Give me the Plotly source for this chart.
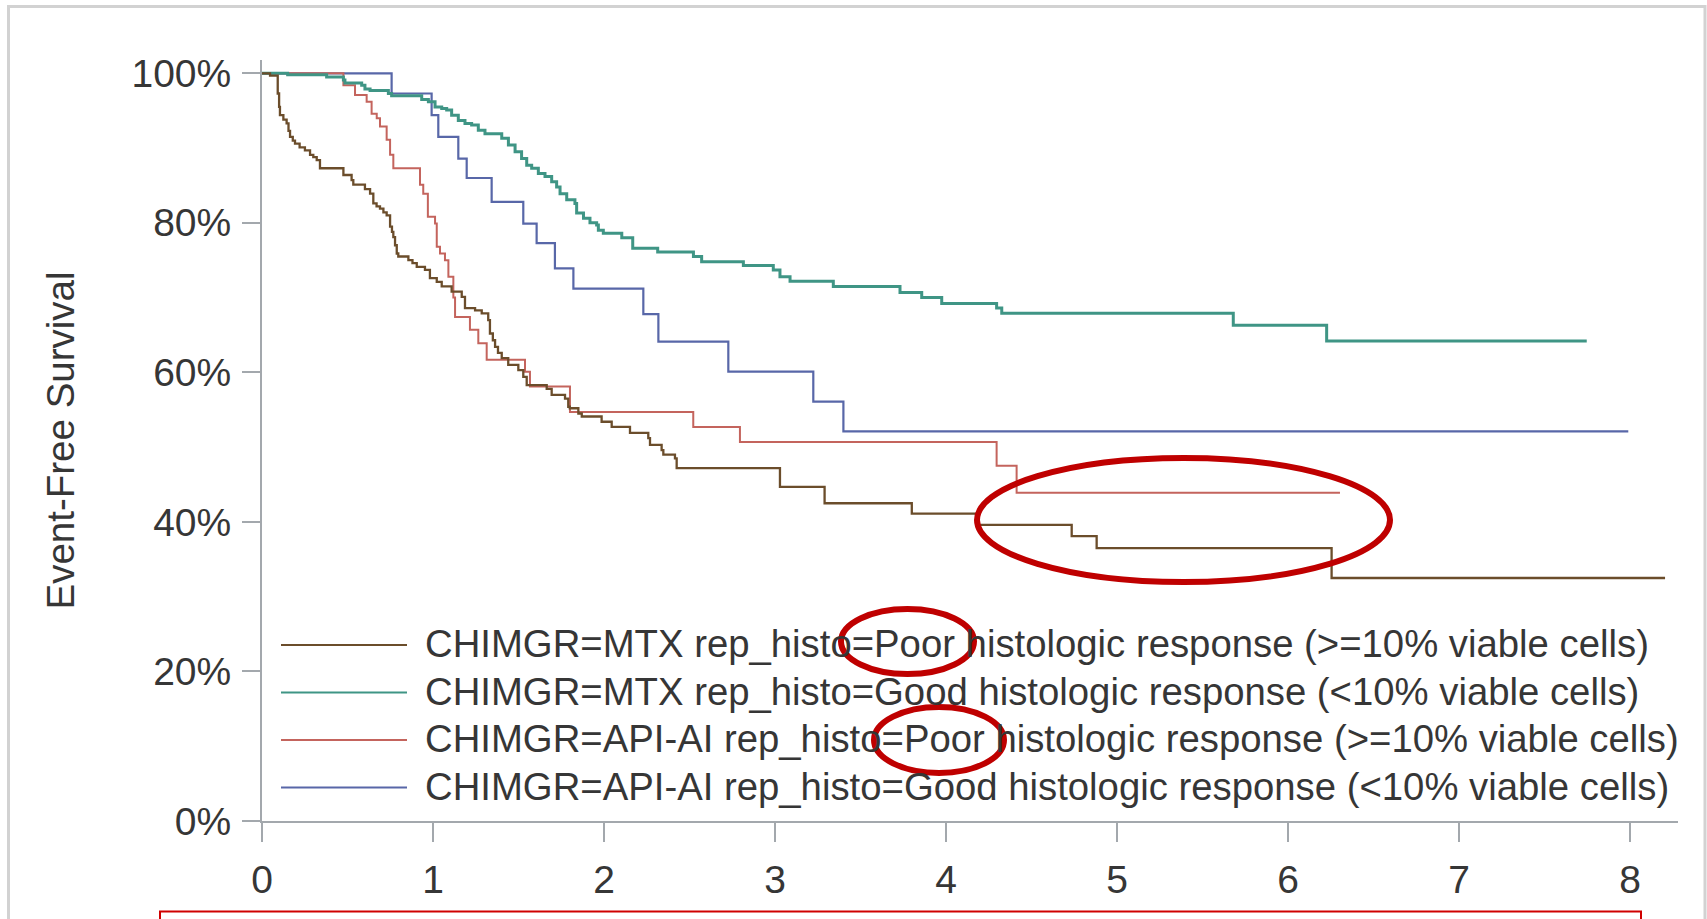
import plotly.graph_objects as go

# ---------------- data (Kaplan-Meier step curves, event-free survival in %) ----------------
mtx_poor_t = [0, 0.047, 0.092, 0.100, 0.105, 0.125, 0.144, 0.155, 0.164, 0.18, 0.193, 0.22, 0.251,
              0.281, 0.30, 0.32, 0.339, 0.476, 0.524, 0.534, 0.602, 0.632, 0.651, 0.67, 0.69, 0.71,
              0.729, 0.749, 0.76, 0.768, 0.778, 0.788, 0.797, 0.856, 0.88, 0.905, 0.953, 0.982,
              1.022, 1.051, 1.109, 1.168, 1.187, 1.246, 1.285, 1.323, 1.333, 1.35, 1.363, 1.38,
              1.402, 1.44, 1.499, 1.528, 1.548, 1.665, 1.694, 1.772, 1.791, 1.80, 1.85, 1.87,
              1.986, 2.045, 2.152, 2.259, 2.269, 2.337, 2.347, 2.415, 2.425, 3.029, 3.29, 3.80,
              4.18, 4.735, 4.881, 6.255, 8.205]
mtx_poor_s = [100, 99.7, 97.3, 95.5, 94.4, 93.8, 93.3, 92.3, 91.5, 91.0, 90.6, 90.1, 89.7,
              89.1, 88.8, 88.4, 87.3, 86.4, 85.7, 85.1, 84.5, 83.9, 82.6, 82.2, 81.9, 81.4,
              81.0, 79.5, 78.8, 78.1, 77.0, 75.9, 75.5, 75.0, 74.6, 74.1, 73.7, 72.6,
              72.1, 71.5, 70.8, 70.1, 68.6, 68.3, 67.9, 67.0, 65.2, 64.3, 63.4, 62.6,
              61.9, 61.0, 60.3, 59.4, 58.3, 57.8, 57.0, 56.5, 55.4, 55.2, 54.5, 54.1,
              53.4, 52.7, 51.9, 51.2, 50.3, 49.6, 49.0, 48.5, 47.2, 44.7, 42.5, 41.1,
              39.6, 38.1, 36.5, 32.5, 32.5]

mtx_good_t = [0, 0.15, 0.378, 0.476, 0.485, 0.583, 0.602, 0.632, 0.739, 0.758, 0.934, 0.973,
              1.012, 1.051, 1.08, 1.109, 1.148, 1.187, 1.226, 1.265, 1.304, 1.402, 1.441, 1.48,
              1.518, 1.548, 1.577, 1.616, 1.655, 1.694, 1.723, 1.743, 1.782, 1.83, 1.84, 1.88,
              1.918, 1.957, 1.967, 1.996, 2.104, 2.168, 2.314, 2.523, 2.571, 2.815, 2.99, 3.029,
              3.088, 3.341, 3.731, 3.858, 3.975, 4.296, 4.326, 5.68, 6.226, 7.747]
mtx_good_s = [100, 99.8, 99.5, 99.1, 98.7, 98.4, 97.9, 97.7, 97.3, 97.0, 96.5, 96.2,
              95.5, 95.3, 95.1, 94.4, 93.7, 93.3, 93.1, 92.4, 91.9, 91.3, 90.4, 89.5,
              88.6, 87.7, 87.3, 86.6, 86.2, 85.5, 84.8, 83.9, 83.1, 82.6, 81.3, 80.6,
              80.0, 79.7, 79.0, 78.6, 78.0, 76.6, 76.1, 75.5, 74.8, 74.3, 73.7, 72.8,
              72.2, 71.5, 70.7, 70.0, 69.2, 68.6, 67.9, 66.3, 64.2, 64.2]

api_poor_t = [0, 0.476, 0.544, 0.612, 0.641, 0.671, 0.69, 0.729, 0.749, 0.768, 0.924, 0.943,
              0.97, 1.012, 1.022, 1.041, 1.07, 1.09, 1.119, 1.129, 1.216, 1.265, 1.314, 1.538,
              1.567, 1.801, 2.522, 2.795, 4.296, 4.413, 6.304]
api_poor_s = [100, 98.4, 97.1, 96.2, 94.6, 94.0, 92.9, 91.1, 89.1, 87.3, 85.1, 83.9,
              80.8, 79.9, 76.8, 75.9, 75.0, 72.8, 70.0, 67.4, 65.7, 63.9, 61.7, 60.1,
              58.1, 54.7, 52.7, 50.7, 47.5, 43.9, 43.9]

api_good_t = [0, 0.758, 0.992, 1.031, 1.148, 1.197, 1.343, 1.528, 1.606, 1.713, 1.821, 2.23,
              2.318, 2.727, 3.224, 3.40, 7.99]
api_good_s = [100, 97.3, 94.4, 91.5, 88.6, 86.0, 82.8, 79.9, 77.3, 73.9, 71.2, 67.8,
              64.1, 60.1, 56.1, 52.1, 52.1]

legend_labels = [
    "CHIMGR=MTX rep_histo=Poor histologic response (>=10% viable cells)",
    "CHIMGR=MTX rep_histo=Good histologic response (<10% viable cells)",
    "CHIMGR=API-AI rep_histo=Poor histologic response (>=10% viable cells)",
    "CHIMGR=API-AI rep_histo=Good histologic response (<10% viable cells)",
]
x_ticks = [0, 1, 2, 3, 4, 5, 6, 7, 8]
y_ticks = [0, 20, 40, 60, 80, 100]
y_title = "Event-Free Survival"

# ---------------- styling / layout ----------------
W, H = 1707, 919
L, R, T, B = 262, 1678, 60, 821
PX_PER_X = 171.0
PX_PER_Y = 7.477
x_max = (R - L) / PX_PER_X
y_max = (B - T) / PX_PER_Y

def px(xp):
    return (xp - L) / (R - L)

def py(yp):
    return (B - yp) / (B - T)

FONT = "Liberation Sans, Arial, Helvetica, sans-serif"
TXT = "#363636"
colors = ["#6b4d2b", "#3f9585", "#c4645d", "#5867a8"]
widths = [2.3, 3.0, 2.0, 2.2]

series = [(mtx_poor_t, mtx_poor_s), (mtx_good_t, mtx_good_s),
          (api_poor_t, api_poor_s), (api_good_t, api_good_s)]

fig = go.Figure()
for i in [3, 2, 1, 0]:
    t, s = series[i]
    fig.add_trace(go.Scatter(x=t, y=s, mode="lines", line_shape="hv",
                             line=dict(color=colors[i], width=widths[i]),
                             name=legend_labels[i], showlegend=False, hoverinfo="skip"))

axis_col = "#a3a8ad"
fig.update_layout(
    width=W, height=H,
    margin=dict(l=L, r=W - R, t=T, b=H - B, pad=0),
    paper_bgcolor="white", plot_bgcolor="white",
    showlegend=False,
    xaxis=dict(range=[0, x_max], tickvals=x_ticks, ticktext=[str(v) for v in x_ticks],
               showgrid=False, zeroline=False, showline=True, linecolor=axis_col, linewidth=2,
               ticks="outside", ticklen=19, tickwidth=2, tickcolor=axis_col,
               tickfont=dict(family=FONT, size=39, color=TXT), ticklabelstandoff=4),
    yaxis=dict(range=[0, y_max], tickvals=y_ticks, ticktext=[f"{v}%" for v in y_ticks],
               showgrid=False, zeroline=False, showline=True, linecolor=axis_col, linewidth=2,
               ticks="outside", ticklen=18, tickwidth=2, tickcolor=axis_col,
               tickfont=dict(family=FONT, size=39, color=TXT), ticklabelstandoff=3),
)

shapes = []
annotations = []

# outer frame
shapes.append(dict(type="rect", xref="paper", yref="paper",
                   x0=px(8.5), x1=px(1705), y0=py(6.5), y1=py(960),
                   line=dict(color="#d2d2d2", width=3), fillcolor="rgba(0,0,0,0)", layer="below"))

# y-axis title
annotations.append(dict(text=y_title, xref="paper", yref="paper", x=px(60), y=py(440.5),
                        xanchor="center", yanchor="middle", textangle=-90, showarrow=False,
                        font=dict(family=FONT, size=38.5, color=TXT)))

# custom legend (long line samples)
row_y = [645, 692.5, 740, 787.5]
for i, lab in enumerate(legend_labels):
    shapes.append(dict(type="line", xref="paper", yref="paper",
                       x0=px(281), x1=px(407), y0=py(row_y[i]), y1=py(row_y[i]),
                       line=dict(color=colors[i], width=2.2)))
    annotations.append(dict(text=lab, xref="paper", yref="paper", x=px(423), y=py(row_y[i] - 1.5),
                            xanchor="left", yanchor="middle", showarrow=False,
                            font=dict(family=FONT, size=38.3, color=TXT)))

# red highlight ellipses
ell = [(977, 458, 1390, 582), (841, 609, 974, 674), (874, 707, 1004, 773)]
for (a, b, c, d) in ell:
    shapes.append(dict(type="circle", xref="paper", yref="paper",
                       x0=px(a), x1=px(c), y0=py(d), y1=py(b),
                       line=dict(color="#bf0000", width=6), fillcolor="rgba(0,0,0,0)"))

# red box at the bottom
shapes.append(dict(type="rect", xref="paper", yref="paper",
                   x0=px(160), x1=px(1641), y0=py(960), y1=py(911.5),
                   line=dict(color="#d00000", width=2), fillcolor="rgba(0,0,0,0)"))

fig.update_layout(shapes=shapes, annotations=annotations)
fig.write_html("out.html", config={"displayModeBar": False})
